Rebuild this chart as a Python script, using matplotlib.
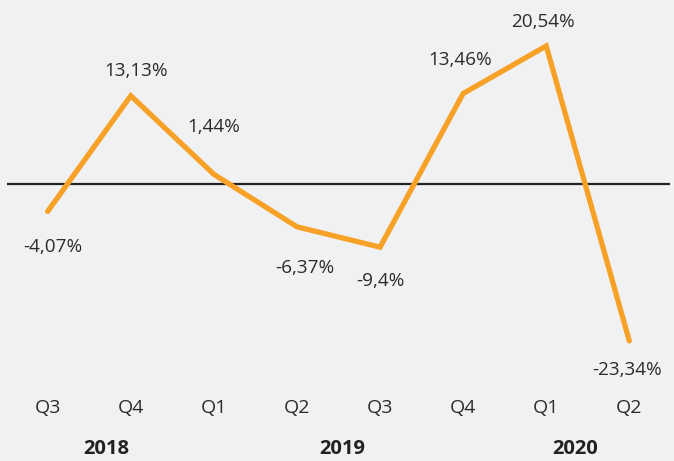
import matplotlib.pyplot as plt
import numpy as np

quarters = ["Q3", "Q4", "Q1", "Q2", "Q3", "Q4", "Q1", "Q2"]
values = [-4.07, 13.13, 1.44, -6.37, -9.4, 13.46, 20.54, -23.34]
labels = ["-4,07%", "13,13%", "1,44%", "-6,37%", "-9,4%", "13,46%", "20,54%", "-23,34%"]
years = ["2018", "2019", "2020"]
year_pos = [0.71, 3.54, 6.35]

# label offsets in pixels (dx, dy)
offsets = [(5, -36), (5, 25), (0, 47), (8, -41), (0, -34), (-3, 34), (-3, 24), (-2, -29)]

plt.rcParams['font.family'] = ['Open Sans', 'DejaVu Sans']
bg = "#f0f1f3"
orange = "#f7a127"
txt = "#2b2b2b"

fig = plt.figure(figsize=(6.74, 4.61), dpi=100, facecolor=bg)
H = 461
ax = fig.add_axes([7 / 674, (H - 385) / H, 663 / 674, 385 / H])
ax.set_facecolor(bg)

x = np.arange(len(values))
ax.axhline(0, color="#222222", lw=1.6, zorder=1)
ax.plot(x, values, color=orange, lw=3.8, solid_capstyle="round",
        solid_joinstyle="miter", zorder=2)

for xi, v, lab, (dx, dy) in zip(x, values, labels, offsets):
    ax.annotate(lab, (xi, v), xytext=(dx * 0.72, dy * 0.72), textcoords="offset points",
                ha="center", va="center", fontsize=13.6, color=txt)

ax.set_xlim(-0.49, 7.49)
ax.set_ylim(-(385 - 184) / 6.72, 184 / 6.72)
ax.set_xticks(x)
ax.set_xticklabels(quarters, fontsize=14, color=txt)
ax.tick_params(axis="x", length=0, pad=10)
ax.set_yticks([])
for s in ax.spines.values():
    s.set_visible(False)

trans = ax.get_xaxis_transform()
for yp, yr in zip(year_pos, years):
    ax.text(yp, -64 / 385, yr, transform=trans, ha="center", va="center",
            fontsize=14.5, fontweight="bold", color="#222222")

fig.savefig("out.png", dpi=100, facecolor=bg)
